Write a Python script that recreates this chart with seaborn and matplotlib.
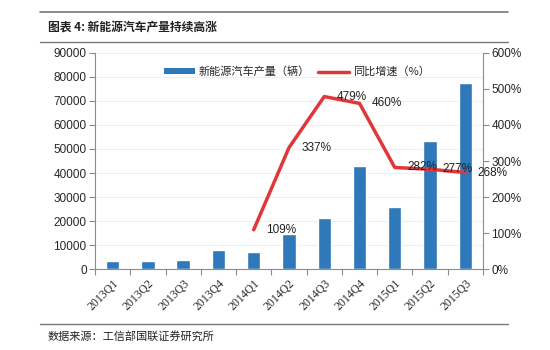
import numpy as np
import pandas as pd
import matplotlib
matplotlib.use("Agg")
import matplotlib.pyplot as plt
import seaborn as sns
from matplotlib.patches import Patch
from matplotlib.lines import Line2D

sns.set_theme(style="white")
plt.rcParams['font.family'] = ['Noto Sans CJK SC', 'DejaVu Sans']

quarters = ["2013Q1", "2013Q2", "2013Q3", "2013Q4", "2014Q1", "2014Q2",
            "2014Q3", "2014Q4", "2015Q1", "2015Q2", "2015Q3"]
production = [3200, 3200, 3600, 7900, 7200, 14500, 21400, 42900, 26000, 53500, 77600]
growth = [np.nan, np.nan, np.nan, np.nan, 109, 337, 479, 460, 282, 277, 268]
growth_labels = ["", "", "", "", "109%", "337%", "479%", "460%", "282%", "277%", "268%"]

title = "图表 4: 新能源汽车产量持续高涨"
source = "数据来源：工信部国联证券研究所"
bar_name = "新能源汽车产量（辆）"
line_name = "同比增速（%）"

bar_color = "#2f78b9"
line_color = "#e0383a"
axis_color = "#8c8c8c"

df = pd.DataFrame({"quarter": quarters, "production": production, "growth": growth})
df["pos"] = np.arange(len(df))

fig = plt.figure(figsize=(5.5, 3.5), dpi=100)
ax = fig.add_axes([0.1727, 0.2314, 0.7054, 0.6172])

sns.barplot(data=df, x="quarter", y="production", color=bar_color, width=0.38,
            saturation=1, ax=ax, zorder=2)
ax.set_ylim(0, 90000)
ax.set_yticks(np.arange(0, 90001, 10000))
ax.set_xlim(-0.5, len(quarters) - 0.5)
ax.set_xlabel("")
ax.set_ylabel("")
ax.yaxis.grid(True, color="#efefef", linewidth=0.8, zorder=0)
ax.set_axisbelow(True)
ax.set_xticks(np.arange(len(quarters)))
ax.set_xticklabels(quarters, rotation=45, ha="right", rotation_mode="anchor",
                   family=["Liberation Serif"], fontsize=8.5)
ax.set_xticks(np.arange(len(quarters) + 1) - 0.5, minor=True)
ax.tick_params(axis="x", which="major", length=0, pad=6)
ax.tick_params(axis="x", which="minor", length=4, color=axis_color, width=0.8, direction="out")
ax.tick_params(axis="y", length=4, color=axis_color, width=0.8, direction="out", labelsize=8.5, pad=2)
for lab in ax.get_yticklabels():
    lab.set_family(["Liberation Sans"])
for s in ["left", "bottom"]:
    ax.spines[s].set_color(axis_color)
    ax.spines[s].set_linewidth(0.8)
for s in ["top", "right"]:
    ax.spines[s].set_visible(False)
ax.tick_params(axis="both", which="both", bottom=True, left=True)
ax.tick_params(axis="x", which="major", bottom=False)

ax2 = ax.twinx()
sns.lineplot(data=df, x="pos", y="growth", color=line_color, linewidth=2.5, ax=ax2, zorder=3)
ax2.set_ylim(0, 600)
ax2.set_yticks(np.arange(0, 601, 100))
ax2.set_yticklabels([f"{v}%" for v in range(0, 601, 100)], family=["Liberation Sans"], fontsize=8.5)
ax2.set_xlim(-0.5, len(quarters) - 0.5)
ax2.set_xlabel("")
ax2.set_ylabel("")
ax2.grid(False)
ax2.tick_params(axis="y", length=4, color=axis_color, width=0.8, direction="out", pad=2, right=True)
for s in ["top", "left", "bottom"]:
    ax2.spines[s].set_visible(False)
ax2.spines["right"].set_color(axis_color)
ax2.spines["right"].set_linewidth(0.8)

for p, g, lab in zip(df["pos"], df["growth"], growth_labels):
    if lab:
        ax2.annotate(lab, (p, g), xytext=(9, 0), textcoords="offset points",
                     ha="left", va="center", fontsize=8.5, family=["Liberation Sans"],
                     color="#222222", zorder=5)

handles = [Patch(facecolor=bar_color, edgecolor="none"),
           Line2D([0], [0], color=line_color, linewidth=2.5)]
leg = ax2.legend(handles, [bar_name, line_name], loc="upper center",
                 bbox_to_anchor=(0.52, 0.985), ncol=2, frameon=False, fontsize=8,
                 handlelength=2.8, handleheight=0.5, columnspacing=0.8, handletextpad=0.3)

# header and footer
fig.add_artist(Line2D([0.073, 0.924], [0.966, 0.966], color="#777777", linewidth=1.2))
fig.add_artist(Line2D([0.073, 0.924], [0.88, 0.88], color="#777777", linewidth=1.0))
fig.text(0.087, 0.923, title, fontsize=8.5, fontweight="bold", va="center", ha="left", color="#222222")
fig.add_artist(Line2D([0.073, 0.924], [0.074, 0.074], color="#777777", linewidth=1.0))
fig.text(0.087, 0.04, source, fontsize=8, va="center", ha="left", color="#222222")

fig.savefig("out.png", dpi=100)
